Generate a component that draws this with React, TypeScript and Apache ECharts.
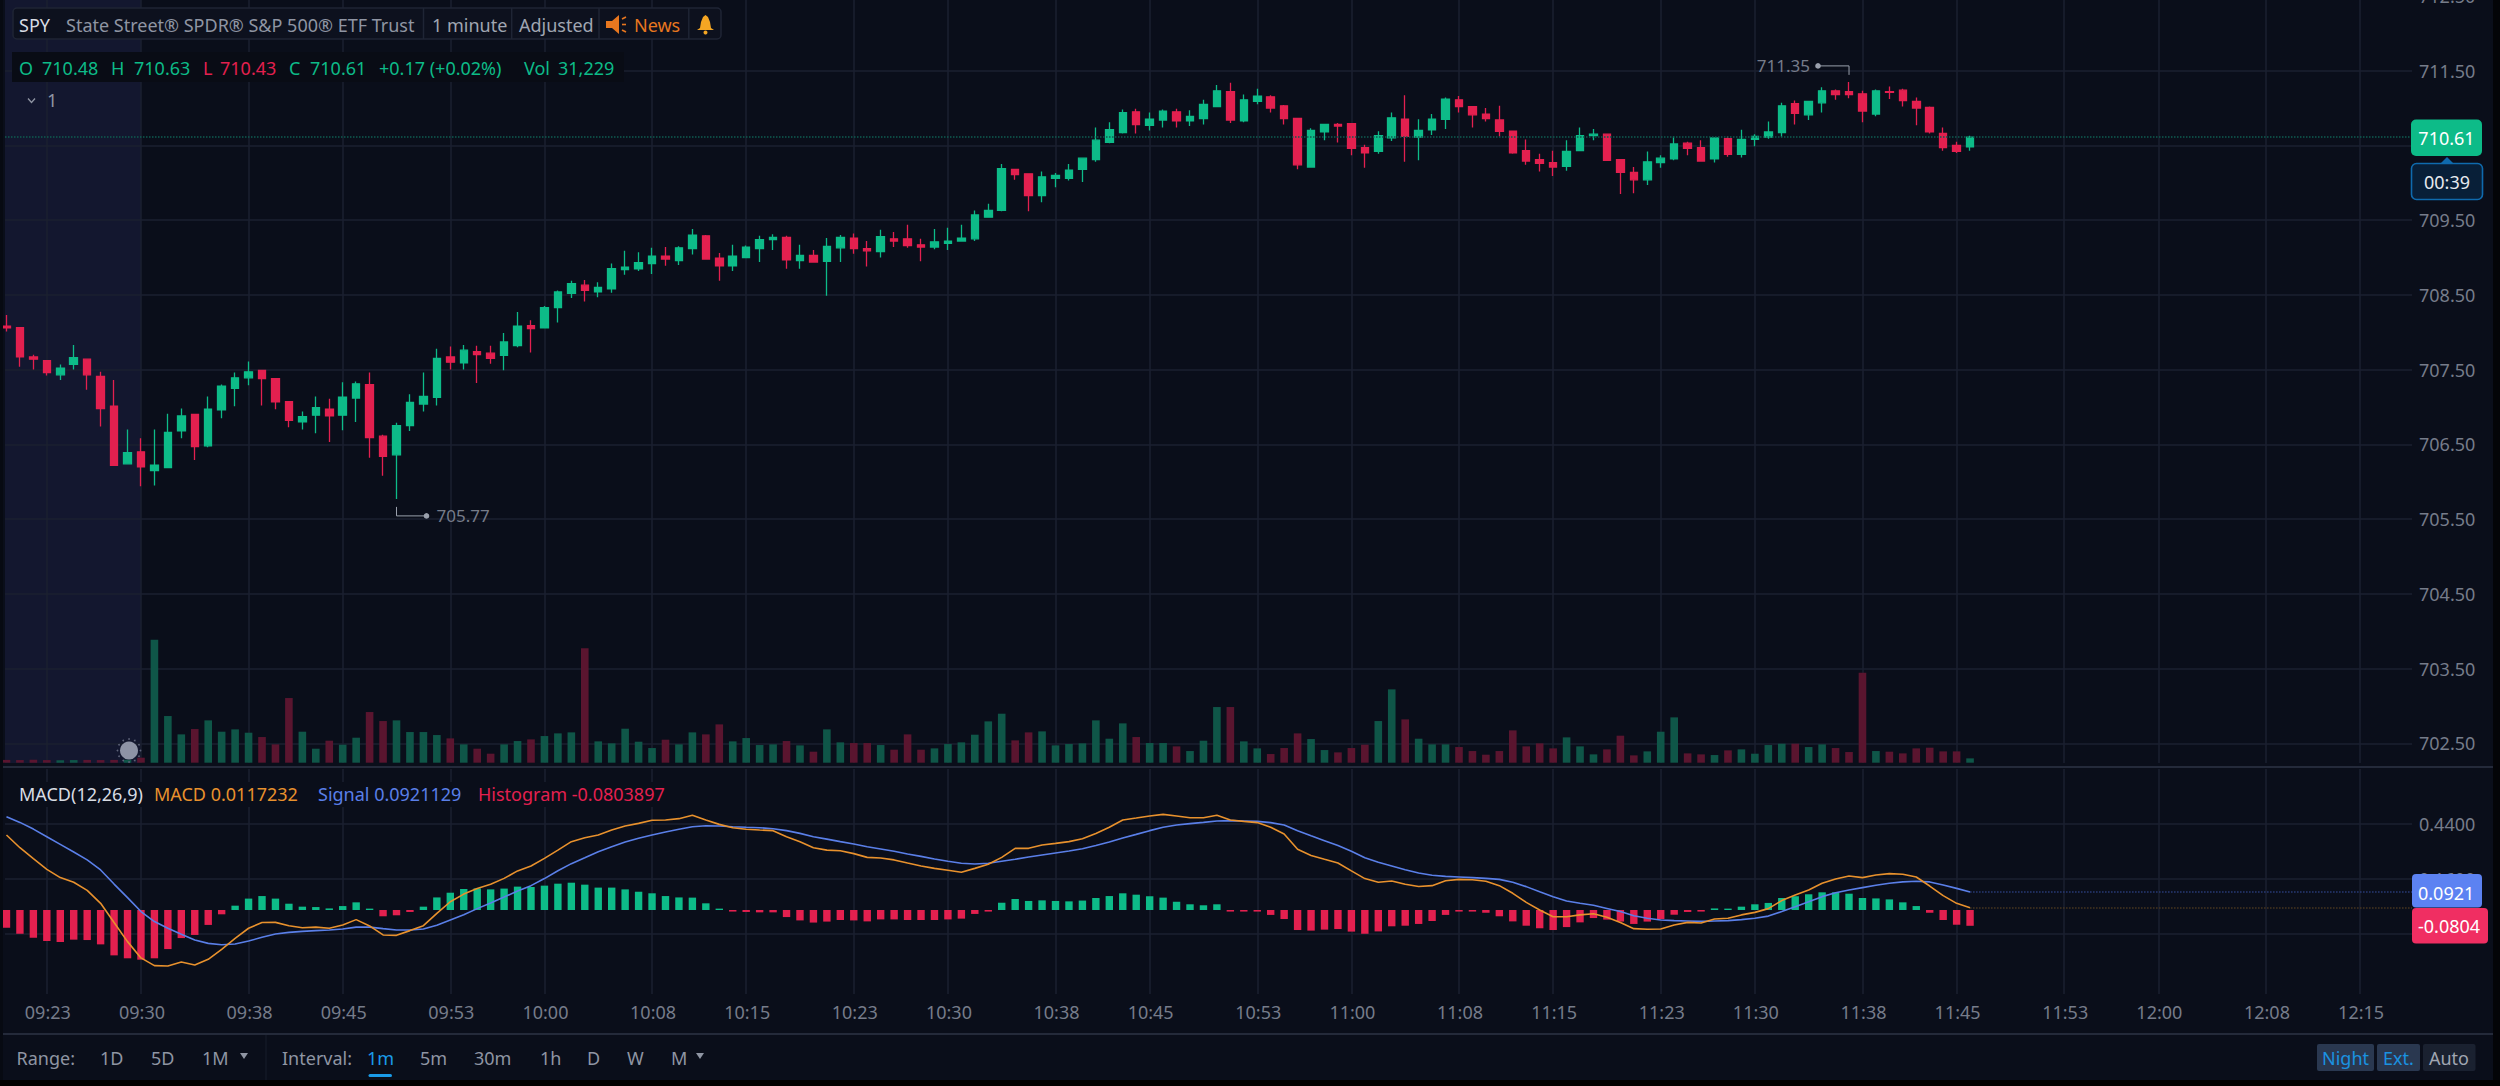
import React, { useEffect, useRef } from "react";
import * as echarts from "echarts";

const FIRST_MINUTE = 560; // 09:20 as minutes of the day
const timeTicks = ["09:23","09:30","09:38","09:45","09:53","10:00","10:08","10:15","10:23","10:30","10:38","10:45","10:53","11:00","11:08","11:15","11:23","11:30","11:38","11:45","11:53","12:00","12:08","12:15"];
const priceTicks = [702.5,703.5,704.5,705.5,706.5,707.5,708.5,709.5,710.5,711.5];
const macdTicks = [-0.12,0.16,0.44];

const opens = [708.08,708.06,707.67,707.62,707.43,707.57,707.64,707.41,707.01,706.24,
706.40,706.15,706.19,706.68,706.90,706.48,706.96,707.25,707.39,707.49,
707.38,707.07,706.80,706.89,706.97,706.89,707.12,707.30,706.61,706.36,
706.75,707.04,707.13,707.67,707.59,707.74,707.72,707.69,707.82,708.09,
708.06,708.33,708.52,708.63,708.54,708.58,708.84,708.85,708.92,709.02,
708.96,709.12,709.29,708.99,708.89,709.00,709.12,709.24,709.27,708.96,
709.03,708.95,709.13,709.26,709.12,709.08,709.25,709.25,709.17,709.14,
709.19,709.22,709.25,709.54,709.63,710.18,710.12,709.83,710.06,710.06,
710.18,710.31,710.54,710.67,710.95,710.77,710.84,710.95,710.83,710.86,
711.02,711.22,710.83,711.09,711.15,711.03,710.86,710.21,710.68,710.78,
710.79,710.47,710.42,710.60,710.85,710.61,710.71,710.85,711.11,711.02,
710.92,710.84,710.69,710.43,710.31,710.27,710.22,710.43,710.63,710.65,
710.31,710.14,710.04,710.27,710.32,710.53,710.47,710.32,710.59,710.38,
710.58,710.61,710.67,711.06,710.91,711.07,711.23,711.22,711.19,710.92,
711.22,711.24,711.09,711.01,710.66,710.50,710.48];
const closes = [708.06,707.67,707.64,707.46,707.52,707.66,707.43,706.98,706.22,706.39,
706.20,706.22,706.66,706.88,706.47,706.97,707.28,707.39,707.47,707.38,
707.07,706.82,706.87,706.99,706.88,707.13,707.31,706.59,706.34,706.75,
707.06,707.14,707.65,707.60,707.76,707.70,707.65,707.87,708.08,708.05,
708.33,708.54,708.65,708.56,708.60,708.85,708.87,708.93,709.02,708.98,
709.13,709.30,708.98,708.89,709.02,709.14,709.24,709.27,708.97,709.03,
708.94,709.15,709.27,709.12,709.09,709.28,709.22,709.16,709.14,709.21,
709.22,709.26,709.57,709.63,710.19,710.11,709.83,710.08,710.10,710.17,
710.33,710.57,710.71,710.94,710.78,710.85,710.96,710.83,710.89,711.05,
711.23,710.84,711.11,711.16,711.00,710.86,710.24,710.70,710.78,710.76,
710.46,710.40,710.63,710.87,710.62,710.70,710.85,711.12,711.02,710.91,
710.86,710.69,710.40,710.29,710.26,710.21,710.42,710.63,710.65,710.30,
710.14,710.04,710.28,710.33,710.52,710.46,710.29,710.60,710.38,710.58,
710.62,710.68,711.03,710.93,711.09,711.23,711.18,711.18,710.96,711.23,
711.21,711.10,711.00,710.68,710.47,710.42,710.61];
const highs = [708.23,708.06,707.70,707.62,707.57,707.83,707.64,707.47,707.36,706.70,
706.58,706.70,706.91,706.98,706.90,707.14,707.30,707.46,707.61,707.49,
707.38,707.07,706.94,707.14,707.11,707.33,707.34,707.46,706.63,706.79,
707.17,707.46,707.78,707.81,707.83,707.82,707.82,707.99,708.27,708.16,
708.35,708.56,708.69,708.70,708.67,708.92,709.09,709.07,709.13,709.14,
709.15,709.38,709.30,709.06,709.17,709.16,709.29,709.31,709.29,709.17,
709.10,709.26,709.30,709.32,709.22,709.37,709.34,709.44,709.25,709.38,
709.40,709.44,709.63,709.72,710.25,710.18,710.12,710.15,710.13,710.25,
710.33,710.74,710.81,710.98,710.99,710.94,710.98,710.99,710.97,711.11,
711.31,711.34,711.18,711.26,711.17,711.04,710.86,710.73,710.78,710.80,
710.79,710.51,710.69,710.94,711.17,710.85,710.92,711.14,711.16,711.02,
711.00,711.03,710.69,710.58,710.39,710.43,710.57,710.74,710.72,710.65,
710.31,710.21,710.42,710.37,710.62,710.55,710.57,710.60,710.62,710.71,
710.65,710.82,711.07,711.10,711.09,711.28,711.25,711.35,711.23,711.25,
711.29,711.26,711.14,711.02,710.74,710.55,710.63];
const lows = [708.01,707.54,707.50,707.42,707.36,707.50,707.23,706.74,706.22,706.24,
705.94,705.95,706.19,706.58,706.29,706.46,706.85,707.01,707.29,707.02,
706.97,706.73,706.70,706.65,706.53,706.69,706.80,706.32,706.08,705.77,
706.68,706.94,707.02,707.50,707.50,707.32,707.58,707.49,707.80,707.73,
708.06,708.13,708.46,708.41,708.47,708.53,708.77,708.82,708.78,708.89,
708.90,709.04,708.97,708.69,708.82,708.99,708.94,709.10,708.85,708.85,
708.93,708.49,708.94,709.05,708.88,709.00,709.14,709.13,708.95,709.11,
709.10,709.21,709.22,709.54,709.62,710.04,709.62,709.74,709.94,710.03,
710.01,710.28,710.53,710.66,710.66,710.70,710.74,710.74,710.76,710.78,
711.01,710.80,710.81,711.05,710.94,710.78,710.18,710.20,710.57,710.54,
710.37,710.20,710.39,710.56,710.28,710.30,710.64,710.72,710.94,710.74,
710.82,710.62,710.39,710.24,710.15,710.09,710.16,710.43,710.57,710.30,
709.85,709.86,709.97,710.20,710.30,710.37,710.28,710.27,710.35,710.34,
710.49,710.59,710.61,710.78,710.84,710.94,711.11,711.13,710.81,710.89,
711.12,711.02,710.77,710.66,710.43,710.40,710.43];
const volumes = [20000,19000,21000,19000,18000,19000,20000,19000,20000,21000,
36000,885600,336000,204000,242400,304800,223200,240000,216000,184800,
132000,465600,223200,100800,158400,129600,180000,364800,300000,304800,
220800,220800,199200,175200,132000,100800,64800,132000,156000,168000,
192000,211200,218400,823200,153600,139200,244800,151200,105600,165600,
132000,218400,204000,276000,153600,177600,127200,132000,156000,124800,
79200,240000,146400,141600,141600,127200,93600,204000,93600,103200,
134400,146400,201600,297600,352800,160800,218400,225600,124800,134400,
139200,304800,172800,283200,184800,141600,141600,117600,84000,158400,
400800,400800,153600,103200,62400,105600,211200,170400,91200,74400,
105600,129600,300000,528000,312000,172800,132000,132000,112800,84000,
57600,84000,232800,117600,139200,103200,182400,117600,60000,96000,
194400,52800,81600,223200,326400,67200,60000,55200,88800,96000,
64800,127200,136800,136800,112800,132000,105600,76800,648000,84000,
79200,67200,103200,108000,81600,81600,31229];
const macdLine = [0.382,0.317,0.261,0.207,0.165,0.141,0.100,0.034,-0.064,-0.161,
-0.244,-0.283,-0.285,-0.265,-0.280,-0.251,-0.200,-0.144,-0.093,-0.064,
-0.063,-0.080,-0.090,-0.087,-0.093,-0.076,-0.049,-0.081,-0.127,-0.129,
-0.105,-0.080,-0.017,0.042,0.081,0.110,0.131,0.161,0.199,0.224,
0.263,0.305,0.348,0.368,0.382,0.407,0.428,0.441,0.457,0.458,
0.465,0.482,0.458,0.436,0.419,0.411,0.407,0.404,0.373,0.348,
0.317,0.305,0.302,0.287,0.268,0.265,0.255,0.239,0.224,0.212,
0.202,0.192,0.212,0.233,0.268,0.314,0.314,0.331,0.339,0.348,
0.363,0.390,0.421,0.458,0.468,0.479,0.487,0.479,0.470,0.470,
0.482,0.458,0.451,0.445,0.421,0.387,0.309,0.278,0.258,0.239,
0.199,0.160,0.141,0.148,0.131,0.120,0.124,0.149,0.156,0.154,
0.146,0.124,0.085,0.039,0,-0.034,-0.034,-0.025,-0.019,-0.037,
-0.064,-0.095,-0.098,-0.097,-0.076,-0.063,-0.066,-0.046,-0.042,-0.025,
-0.012,0.007,0.048,0.076,0.102,0.136,0.158,0.173,0.165,0.178,
0.185,0.182,0.168,0.122,0.073,0.034,0.0117];
const signalLine = [0.475,0.446,0.412,0.373,0.334,0.295,0.255,0.204,0.132,0.063,
-0.008,-0.059,-0.093,-0.124,-0.153,-0.170,-0.177,-0.173,-0.158,-0.139,
-0.122,-0.114,-0.109,-0.105,-0.102,-0.097,-0.087,-0.087,-0.095,-0.102,
-0.102,-0.097,-0.078,-0.051,-0.024,0.007,0.036,0.066,0.097,0.124,
0.160,0.200,0.236,0.266,0.297,0.322,0.346,0.365,0.382,0.397,
0.411,0.424,0.429,0.428,0.424,0.421,0.419,0.414,0.404,0.390,
0.373,0.361,0.348,0.336,0.322,0.311,0.299,0.285,0.273,0.260,
0.248,0.238,0.234,0.238,0.248,0.258,0.270,0.280,0.290,0.300,
0.312,0.328,0.346,0.367,0.385,0.404,0.421,0.433,0.440,0.446,
0.453,0.455,0.453,0.451,0.445,0.433,0.404,0.378,0.353,0.328,
0.299,0.266,0.243,0.224,0.205,0.188,0.177,0.171,0.168,0.165,
0.161,0.156,0.141,0.119,0.093,0.068,0.046,0.034,0.024,0.008,
-0.008,-0.029,-0.042,-0.051,-0.054,-0.056,-0.058,-0.056,-0.054,-0.049,
-0.042,-0.031,-0.008,0.017,0.042,0.068,0.088,0.102,0.114,0.126,
0.136,0.143,0.146,0.143,0.127,0.110,0.0921];
const histogram = [-0.090,-0.121,-0.141,-0.158,-0.163,-0.151,-0.153,-0.175,-0.231,-0.246,
-0.253,-0.246,-0.199,-0.143,-0.127,-0.076,-0.022,0.022,0.058,0.071,
0.058,0.032,0.017,0.015,0.008,0.020,0.039,0.007,-0.032,-0.027,
-0.010,0.017,0.064,0.088,0.107,0.110,0.105,0.109,0.119,0.117,
0.124,0.134,0.139,0.129,0.114,0.114,0.105,0.093,0.085,0.071,
0.064,0.063,0.034,0.007,-0.008,-0.010,-0.012,-0.012,-0.036,-0.053,
-0.064,-0.059,-0.051,-0.053,-0.058,-0.048,-0.048,-0.051,-0.051,-0.051,
-0.048,-0.044,-0.020,-0.008,0.037,0.056,0.046,0.049,0.046,0.044,
0.048,0.061,0.071,0.085,0.078,0.070,0.063,0.042,0.029,0.024,
0.029,-0.008,-0.008,-0.008,-0.025,-0.046,-0.102,-0.105,-0.100,-0.097,
-0.110,-0.121,-0.109,-0.083,-0.080,-0.071,-0.056,-0.025,-0.008,-0.008,
-0.014,-0.032,-0.058,-0.080,-0.093,-0.102,-0.087,-0.063,-0.041,-0.049,
-0.059,-0.071,-0.059,-0.046,-0.024,-0.010,-0.008,0.008,0.007,0.017,
0.029,0.036,0.061,0.070,0.080,0.090,0.090,0.083,0.061,0.059,
0.054,0.039,0.020,-0.014,-0.051,-0.075,-0.0804];

const toMinute = (t: string) => { const [h, m] = t.split(":").map(Number); return h * 60 + m; };
const toLabel = (v: number) => String(Math.floor(v / 60)).padStart(2, "0") + ":" + String(Math.round(v % 60)).padStart(2, "0");
const minutes = opens.map((_, i) => FIRST_MINUTE + i);
const tickMinutes = timeTicks.map(toMinute);

const BG = "#0a0e1a";
const GRID = "#1b2030";
const SEP = "#242a3a";
const AXIS_TEXT = "#767c8a";
const GREEN = "#0dbb88";
const RED = "#e3204f";
const VGREEN = "#0f5648";
const VRED = "#5a152f";
const ORANGE = "#e8912d";
const BLUE = "#5a7fe8";
const FONT = '"Noto Sans"';
const X_MIN = 559.89;
const X_MAX = 738.86;

const txt = (text: string, x: number, y: number, fill: string, size = 18, align = "left") => ({
  type: "text", z: 120,
  style: { text, x, y, fill, font: `${size}px ${FONT}`, align, verticalAlign: "middle", textAlign: align, textVerticalAlign: "middle" },
});
const rect = (x: number, y: number, w: number, h: number, fill: string, extra: any = {}, r = 0, z = 100) => ({
  type: "rect", z, shape: { x, y, width: w, height: h, r }, style: { fill, ...extra },
});
const line = (x1: number, y1: number, x2: number, y2: number, stroke: string, lineWidth = 1, z = 110) => ({
  type: "line", z, shape: { x1, y1, x2, y2 }, style: { stroke, lineWidth },
});
const poly = (points: number[][], fill: string) => ({ type: "polygon", z: 120, shape: { points }, style: { fill } });

function overlay(low: number[], high: number[]) {
  const g: any[] = [];
  // page edges and pane separators
  g.push(rect(2493, 0, 7, 1086, "#030407"), rect(0, 1080, 2500, 6, "#000000", {}, 0, 105), rect(0, 0, 3, 1080, "#070a12"));
  g.push(line(3, 767, 2493, 767, SEP, 2), line(3, 1034, 2493, 1034, SEP, 2), line(266, 1035, 266, 1080, "#171c2a", 1));

  // the price tick that the window's top edge cuts
  g.push(txt("712.50", 2419, -4, AXIS_TEXT));

  // top toolbar
  g.push(rect(13, 8, 708, 31, "#0d111e", { stroke: "#1f2535", lineWidth: 1.5 }, 4));
  [423.5, 511.7, 599, 688.8].forEach((x) => g.push(line(x, 8, x, 39, "#1f2535", 1.5)));
  g.push(txt("SPY", 19, 25, "#d8dce4"), txt("State Street® SPDR® S&P 500® ETF Trust", 66, 25, "#8f95a3"));
  g.push(txt("1 minute", 432, 25, "#a0a6b2"), txt("Adjusted", 519, 25, "#a0a6b2"), txt("News", 634, 25, "#e8771f"));
  g.push(poly([[606, 21], [612, 21], [619, 15], [619, 34], [612, 28], [606, 28]], "#e8771f"));
  g.push(line(622, 19, 626, 17, "#e8771f", 1.6, 120), line(622, 24.5, 626, 24.5, "#e8771f", 1.6, 120), line(622, 30, 626, 32, "#e8771f", 1.6, 120));
  g.push(poly([[705.5, 15], [708, 17], [710, 22], [711, 28], [714, 30], [697, 30], [700, 28], [701, 22], [703, 17]], "#f5a623"));
  g.push({ type: "circle", z: 120, shape: { cx: 705.5, cy: 32.5, r: 2 }, style: { fill: "#f5a623" } });

  // OHLC row
  g.push(rect(12, 52, 612, 30, "#090c15"));
  g.push(txt("O", 19, 68, GREEN), txt("710.48", 42, 68, GREEN), txt("H", 111, 68, GREEN), txt("710.63", 134, 68, GREEN));
  g.push(txt("L", 203, 68, RED), txt("710.43", 220, 68, RED), txt("C", 289, 68, GREEN), txt("710.61", 310, 68, GREEN));
  g.push(txt("+0.17 (+0.02%)", 379, 68, GREEN), txt("Vol", 524, 68, GREEN), txt("31,229", 558, 68, GREEN));
  g.push({ type: "polyline", z: 120, shape: { points: [[28, 98.5], [31.5, 102.5], [35, 98.5]] }, style: { stroke: "#8f95a3", lineWidth: 1.3, fill: "none" } });
  g.push(txt("1", 47, 100, "#8f95a3"));

  // pre-market marker
  g.push({ type: "circle", z: 115, shape: { cx: 129, cy: 750.5, r: 9 }, style: { fill: "#8e93a6" } });
  for (let k = 0; k < 12; k++) {
    const a = (k * Math.PI) / 6;
    g.push({ type: "circle", z: 115, shape: { cx: 129 + 11.5 * Math.cos(a), cy: 750.5 + 11.5 * Math.sin(a), r: 0.9 }, style: { fill: "#5d6278" } });
  }

  // MACD legend
  g.push(rect(14, 782, 660, 25, BG));
  g.push(txt("MACD(12,26,9)", 19, 794, "#d8dce4"), txt("MACD 0.0117232", 154, 794, ORANGE), txt("Signal 0.0921129", 318, 794, BLUE), txt("Histogram -0.0803897", 478, 794, RED));

  // high / low annotations anchored on the data
  const ann = "#9aa0ac";
  g.push(line(low[0], low[1] + 8, low[0], low[1] + 17, ann), line(low[0], low[1] + 17, low[0] + 30, low[1] + 17, ann));
  g.push({ type: "circle", z: 115, shape: { cx: low[0] + 30, cy: low[1] + 17, r: 2.8 }, style: { fill: ann } });
  g.push(txt("705.77", low[0] + 40, low[1] + 17, AXIS_TEXT, 17));
  g.push(line(high[0], high[1] - 7, high[0], high[1] - 16, ann), line(high[0], high[1] - 16, high[0] - 31, high[1] - 16, ann));
  g.push({ type: "circle", z: 115, shape: { cx: high[0] - 31, cy: high[1] - 16, r: 2.8 }, style: { fill: ann } });
  g.push(txt("711.35", high[0] - 39, high[1] - 16, AXIS_TEXT, 17, "right"));

  // price tags
  g.push(rect(2411, 119.5, 71, 36.5, "#0dbb88", {}, 5));
  g.push(txt("710.61", 2446.5, 137.6, "#ffffff", 18, "center"));
  g.push(poly([[2440, 164], [2447, 157], [2454, 164]], "#0f6aad"));
  g.push(rect(2411.5, 163.5, 71, 36, "#081f38", { stroke: "#0f6aad", lineWidth: 1.6 }, 5));
  g.push(txt("00:39", 2447, 181.6, "#e6e9ee", 18, "center"));
  g.push(rect(2412, 874, 70, 33.5, "#5c82f2", {}, 4));
  g.push(txt("0.0921", 2418, 893, "#ffffff"));
  g.push(rect(2412, 908, 76, 35.5, "#f02e62", {}, 4));
  g.push(txt("-0.0804", 2418, 926, "#ffffff"));

  // bottom toolbar
  const y = 1057.5;
  g.push(txt("Range:", 16.5, y, "#8f95a3"), txt("1D", 100, y, "#8f95a3"), txt("5D", 151, y, "#8f95a3"), txt("1M", 202, y, "#8f95a3"));
  g.push(poly([[240, 1053], [248, 1053], [244, 1059]], "#8f95a3"));
  g.push(txt("Interval:", 282, y, "#8f95a3"), txt("1m", 367, y, "#1a9be8"));
  g.push(rect(368.5, 1074, 23.5, 3, "#1a9be8", {}, 1.5, 120));
  g.push(txt("5m", 420, y, "#8f95a3"), txt("30m", 474, y, "#8f95a3"), txt("1h", 540, y, "#8f95a3"), txt("D", 587, y, "#8f95a3"), txt("W", 627, y, "#8f95a3"), txt("M", 671, y, "#8f95a3"));
  g.push(poly([[696, 1053], [704, 1053], [700, 1059]], "#8f95a3"));
  g.push(rect(2317, 1044, 57, 27, "#2a3850", {}, 2), rect(2377, 1044, 43, 27, "#2a3850", {}, 2), rect(2423, 1044, 52.5, 27, "#1a2130", {}, 2));
  g.push(txt("Night", 2345.5, y, "#1a92e0", 18, "center"), txt("Ext.", 2398.5, y, "#1a92e0", 18, "center"), txt("Auto", 2449, y, "#a0a6b2", 18, "center"));
  return g;
}

export default function App() {
  const ref = useRef<HTMLDivElement>(null);
  useEffect(() => {
    document.body.style.margin = "0";
    document.body.style.background = "#000";
    const chart = echarts.init(ref.current!, undefined, { renderer: "svg" });
    const xBase = { type: "value", min: X_MIN, max: X_MAX, axisLine: { show: false } };
    const tickOpts = { show: false, customValues: tickMinutes };
    const split = { show: true, lineStyle: { color: GRID, width: 1.5 } };
    const lastMinute = minutes[minutes.length - 1];
    const option: any = {
      animation: false,
      backgroundColor: BG,
      textStyle: { fontFamily: FONT },
      grid: [
        { left: 5, top: 0, width: 2407, height: 763 },
        { left: 5, top: 612.7, width: 2407, height: 150 },
        { left: 5, top: 769, width: 2407, height: 225 },
      ],
      xAxis: [
        { ...xBase, gridIndex: 0, axisTick: tickOpts, axisLabel: { show: false, customValues: tickMinutes }, splitLine: split },
        { ...xBase, gridIndex: 1, axisTick: { show: false }, axisLabel: { show: false }, splitLine: { show: false } },
        {
          ...xBase, gridIndex: 2, axisTick: tickOpts, splitLine: split,
          axisLabel: { show: true, customValues: tickMinutes, formatter: (v: number) => toLabel(v), color: AXIS_TEXT, fontSize: 18, fontFamily: FONT, margin: 9, padding: [0, 0, 0, 2] },
        },
      ],
      yAxis: [
        {
          type: "value", gridIndex: 0, position: "right", min: 702.236, max: 712.446, scale: true,
          axisLine: { show: false }, axisTick: { show: false, customValues: priceTicks },
          axisLabel: { show: true, customValues: priceTicks, inside: false, formatter: (v: number) => v.toFixed(2), color: AXIS_TEXT, fontSize: 18, fontFamily: FONT, margin: 7, align: "left" },
          splitLine: { show: true, lineStyle: { color: GRID, width: 1.5 } },
        },
        { type: "value", gridIndex: 1, min: 0, max: 1080000, axisLine: { show: false }, axisTick: { show: false }, axisLabel: { show: false }, splitLine: { show: false } },
        {
          type: "value", gridIndex: 2, position: "right", min: -0.4277, max: 0.7179,
          axisLine: { show: false }, axisTick: { show: false, customValues: macdTicks },
          axisLabel: { show: true, customValues: macdTicks, formatter: (v: number) => v.toFixed(4), color: AXIS_TEXT, fontSize: 18, fontFamily: FONT, margin: 7, align: "left" },
          splitLine: { show: true, lineStyle: { color: GRID, width: 1.5 } },
        },
      ],
      series: [
        {
          type: "bar", name: "Volume", xAxisIndex: 1, yAxisIndex: 1, barWidth: 7.6, z: 1,
          data: minutes.map((m, i) => ({ value: [m, volumes[i]], itemStyle: { color: closes[i] >= opens[i] ? VGREEN : VRED } })),
        },
        {
          type: "candlestick", name: "SPY", xAxisIndex: 0, yAxisIndex: 0, barWidth: 8, z: 3,
          data: minutes.map((m, i) => [m, opens[i], closes[i], lows[i], highs[i]]),
          itemStyle: { color: GREEN, color0: RED, borderColor: GREEN, borderColor0: RED, borderWidth: 1.3 },
          markArea: { silent: true, itemStyle: { color: "#13172f", opacity: 1 }, z: -1, data: [[{ xAxis: X_MIN }, { xAxis: toMinute("09:30") }]] },
          markLine: {
            silent: true, symbol: "none", label: { show: false },
            lineStyle: { color: "#0f5c50", type: "dotted", width: 1.5 },
            data: [{ yAxis: closes[closes.length - 1] }],
          },
        },
        {
          type: "bar", name: "Histogram", xAxisIndex: 2, yAxisIndex: 2, barWidth: 7.4, z: 2,
          data: minutes.map((m, i) => ({ value: [m, histogram[i]], itemStyle: { color: histogram[i] >= 0 ? GREEN : RED } })),
        },
        {
          type: "line", name: "Signal", xAxisIndex: 2, yAxisIndex: 2, symbol: "none", z: 3,
          lineStyle: { color: BLUE, width: 1.6 },
          data: minutes.map((m, i) => [m, signalLine[i]]),
          markLine: {
            silent: true, symbol: "none", label: { show: false },
            lineStyle: { color: "#2a3a78", type: "dotted", width: 1.5 },
            data: [[{ coord: [lastMinute, signalLine[signalLine.length - 1]] }, { coord: [X_MAX, signalLine[signalLine.length - 1]] }]],
          },
        },
        {
          type: "line", name: "MACD", xAxisIndex: 2, yAxisIndex: 2, symbol: "none", z: 4,
          lineStyle: { color: ORANGE, width: 1.6 },
          data: minutes.map((m, i) => [m, macdLine[i]]),
          markLine: {
            silent: true, symbol: "none", label: { show: false },
            lineStyle: { color: "#4a3620", type: "dotted", width: 1.5 },
            data: [[{ coord: [lastMinute, macdLine[macdLine.length - 1]] }, { coord: [X_MAX, macdLine[macdLine.length - 1]] }]],
          },
        },
      ],
    };
    chart.setOption(option);
    const lowIdx = lows.indexOf(Math.min(...lows));
    const highIdx = highs.indexOf(Math.max(...highs));
    const low = chart.convertToPixel({ gridIndex: 0 }, [minutes[lowIdx], lows[lowIdx]]) as number[];
    const high = chart.convertToPixel({ gridIndex: 0 }, [minutes[highIdx], highs[highIdx]]) as number[];
    chart.setOption({ graphic: overlay(low, high) });
    return () => chart.dispose();
  }, []);
  return <div ref={ref} style={{ position: "absolute", left: 0, top: 0, width: 2500, height: 1086 }} />;
}
